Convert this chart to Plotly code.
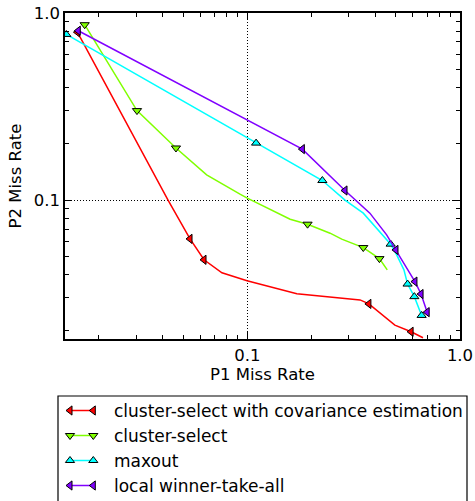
import plotly.graph_objects as go

# ---------------- data ----------------
series_names = [
    "cluster-select with covariance estimation",
    "cluster-select",
    "maxout",
    "local winner-take-all",
]
series_colors = ["#ff0000", "#80ff00", "#00ffff", "#8000ff"]
series_symbols = ["triangle-left", "triangle-down", "triangle-up", "triangle-left"]

red_x = [0.0159, 0.0424, 0.0538, 0.0626, 0.0760, 0.0924, 0.0997, 0.171, 0.339, 0.373, 0.494, 0.589, 0.670]
red_y = [0.79, 0.1, 0.0621, 0.048, 0.0409, 0.0380, 0.0371, 0.0316, 0.0293, 0.0279, 0.0215, 0.0198, 0.0184]
red_mx = [0.0159, 0.0538, 0.0626, 0.373, 0.589]
red_my = [0.79, 0.0621, 0.048, 0.0279, 0.0198]

green_x = [0.0172, 0.0303, 0.0462, 0.0644, 0.0924, 0.1, 0.159, 0.192, 0.245, 0.278, 0.351, 0.418, 0.455]
green_y = [0.866, 0.301, 0.190, 0.1365, 0.1076, 0.1025, 0.0791, 0.0744, 0.0666, 0.0619, 0.0558, 0.0487, 0.0424]
green_mx = [0.0172, 0.0303, 0.0462, 0.192, 0.351, 0.418]
green_my = [0.866, 0.301, 0.190, 0.0744, 0.0558, 0.0487]

cyan_x = [0.0141, 0.110, 0.2254, 0.288, 0.351, 0.472, 0.504, 0.545, 0.567, 0.610, 0.660]
cyan_y = [0.768, 0.2017, 0.1273, 0.1, 0.0852, 0.0582, 0.051, 0.0424, 0.0356, 0.0305, 0.0242]
cyan_mx = [0.0141, 0.110, 0.2254, 0.472, 0.567, 0.610, 0.660]
cyan_my = [0.768, 0.2017, 0.1273, 0.0582, 0.0356, 0.0305, 0.0242]

purple_x = [0.01605, 0.1815, 0.288, 0.377, 0.452, 0.500, 0.551, 0.614, 0.656, 0.701]
purple_y = [0.804, 0.1874, 0.1126, 0.0852, 0.0652, 0.0542, 0.0451, 0.0367, 0.0315, 0.0252]
purple_mx = [0.01605, 0.1815, 0.288, 0.500, 0.614, 0.656, 0.701]
purple_my = [0.804, 0.1874, 0.1126, 0.0542, 0.0367, 0.0315, 0.0252]

major_ticks = [0.1, 1.0]
major_labels = ["0.1", "1.0"]
minor_ticks = [0.02, 0.03, 0.04, 0.05, 0.06, 0.07, 0.08, 0.09,
               0.2, 0.3, 0.4, 0.5, 0.6, 0.7, 0.8, 0.9]

x_title = "P1 Miss Rate"
y_title = "P2 Miss Rate"

lines = [(red_x, red_y), (green_x, green_y), (cyan_x, cyan_y), (purple_x, purple_y)]
marks = [(red_mx, red_my), (green_mx, green_my), (cyan_mx, cyan_my), (purple_mx, purple_my)]

# ---------------- figure ----------------
FONT = "DejaVu Sans"
W, H = 475, 501
ML, MR, MT = 65, 15, 13
plot_h = H - MT
main_bottom_px = 339
legend_top_px = 396

fig = go.Figure()

for (lx, ly), (mx, my), c, s, n in zip(lines, marks, series_colors, series_symbols, series_names):
    fig.add_trace(go.Scatter(x=lx, y=ly, mode="lines", line=dict(color=c, width=1.5),
                             showlegend=False, hoverinfo="skip", xaxis="x", yaxis="y"))
    fig.add_trace(go.Scatter(x=mx, y=my, mode="markers", name=n,
                             marker=dict(symbol=s, size=8, color=c, line=dict(color="black", width=1)),
                             showlegend=False, xaxis="x", yaxis="y"))

# ---- custom legend drawn on a hidden helper axis (units = pixels) ----
row_y = [90.5, 65.5, 40.5, 15.5]
sym_x = [5.0, 28.3]
text_x = 47.0
for i, (c, s, n) in enumerate(zip(series_colors, series_symbols, series_names)):
    fig.add_trace(go.Scatter(x=sym_x, y=[row_y[i], row_y[i]], mode="lines+markers",
                             line=dict(color=c, width=1.5),
                             marker=dict(symbol=s, size=8, color=c, line=dict(color="black", width=1)),
                             showlegend=False, hoverinfo="skip", xaxis="x2", yaxis="y2",
                             cliponaxis=False))
    fig.add_annotation(x=text_x, y=row_y[i], xref="x2", yref="y2", text=n, showarrow=False,
                       xanchor="left", yanchor="middle",
                       font=dict(family=FONT, size=17, color="black"))

legend_box_h = H - legend_top_px
fig.add_shape(type="rect", xref="paper", yref="paper",
              x0=(58 - ML) / (W - ML - MR), x1=(467 - ML) / (W - ML - MR),
              y0=-0.05, y1=legend_box_h / plot_h,
              line=dict(color="black", width=1.2), fillcolor="rgba(0,0,0,0)", layer="below")

axis_common = dict(
    type="log",
    tickmode="array",
    tickvals=major_ticks,
    ticktext=major_labels,
    ticks="inside",
    ticklen=7,
    tickwidth=1.2,
    tickcolor="black",
    showline=True,
    linecolor="black",
    linewidth=1.5,
    mirror="allticks",
    showgrid=True,
    gridcolor="black",
    griddash="1px,2px",
    gridwidth=1,
    zeroline=False,
    automargin=False,
    tickfont=dict(family=FONT, size=16.5, color="black"),
    minor=dict(tickmode="array", tickvals=minor_ticks, ticks="inside", ticklen=4,
               tickwidth=1, tickcolor="black", showgrid=False),
)

main_y_domain = [(H - main_bottom_px) / plot_h, 1.0]

fig.update_layout(
    width=W, height=H,
    margin=dict(l=ML, r=MR, t=MT, b=0, pad=0),
    paper_bgcolor="white", plot_bgcolor="white",
    showlegend=False,
    font=dict(family=FONT, size=16.5, color="black"),
    xaxis=dict(axis_common, range=[-1.857, 0.0], domain=[0, 1], anchor="y",
               ticklabelstandoff=0,
               title=dict(text=x_title, font=dict(family=FONT, size=16.5), standoff=4)),
    yaxis=dict(axis_common, range=[-1.742, 0.0], domain=main_y_domain, anchor="x",
               title=dict(text=y_title, font=dict(family=FONT, size=16.5), standoff=8)),
    xaxis2=dict(range=[0, W - ML - MR], domain=[0, 1], anchor="y2", visible=False, fixedrange=True),
    yaxis2=dict(range=[0, legend_box_h], domain=[0, legend_box_h / plot_h], anchor="x2",
                visible=False, fixedrange=True),
)

fig.write_html("out.html")
